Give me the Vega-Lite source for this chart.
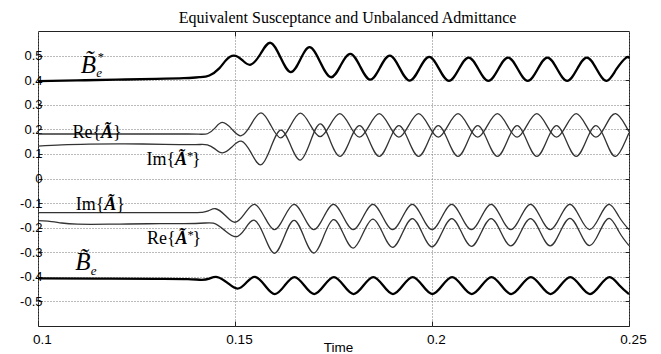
{
  "$schema": "https://vega.github.io/schema/vega-lite/v6.json",
  "width": 591,
  "height": 295,
  "autosize": {"type": "none"},
  "padding": {"left": 38, "top": 31, "right": 32, "bottom": 28},
  "background": "white",
  "title": {"text": "Equivalent Susceptance and Unbalanced Admittance", "font": "Liberation Serif", "fontSize": 16, "fontWeight": "normal", "color": "black", "offset": -8, "baseline": "alphabetic", "dx": 14},
  "config": {
    "view": {"stroke": "#222", "strokeWidth": 1},
    "axis": {"tickColor": "#222", "tickWidth": 1, "domain": false}
  },
  "datasets": {
    "thick": [
      {"s":"Bs","t":0.100,"v":0.396},{"s":"Bs","t":0.110,"v":0.399},{"s":"Bs","t":0.120,"v":0.402},{"s":"Bs","t":0.130,"v":0.405},{"s":"Bs","t":0.137,"v":0.408},{"s":"Bs","t":0.141,"v":0.412},{"s":"Bs","t":0.1435,"v":0.419},{"s":"Bs","t":0.1460,"v":0.448},{"s":"Bs","t":0.1477,"v":0.481},{"s":"Bs","t":0.1497,"v":0.500},
      {"s":"Bs","t":0.15185,"v":0.4815},{"s":"Bs","t":0.1540,"v":0.463},{"s":"Bs","t":0.1565,"v":0.5075},{"s":"Bs","t":0.1590,"v":0.552},{"s":"Bs","t":0.16155,"v":0.4925},{"s":"Bs","t":0.1641,"v":0.433},{"s":"Bs","t":0.16655,"v":0.4835},{"s":"Bs","t":0.1690,"v":0.534},{"s":"Bs","t":0.17165,"v":0.473},{"s":"Bs","t":0.1743,"v":0.412},
      {"s":"Bs","t":0.1768,"v":0.4595},{"s":"Bs","t":0.1793,"v":0.507},{"s":"Bs","t":0.1818,"v":0.4545},{"s":"Bs","t":0.1843,"v":0.402},{"s":"Bs","t":0.1868,"v":0.451},{"s":"Bs","t":0.1893,"v":0.500},{"s":"Bs","t":0.1918,"v":0.449},{"s":"Bs","t":0.1943,"v":0.398},{"s":"Bs","t":0.1968,"v":0.4465},{"s":"Bs","t":0.1993,"v":0.495},
      {"s":"Bs","t":0.2018,"v":0.446},{"s":"Bs","t":0.2043,"v":0.397},{"s":"Bs","t":0.2068,"v":0.4445},{"s":"Bs","t":0.2093,"v":0.492},{"s":"Bs","t":0.2118,"v":0.4445},{"s":"Bs","t":0.2143,"v":0.397},{"s":"Bs","t":0.2168,"v":0.4445},{"s":"Bs","t":0.2193,"v":0.492},{"s":"Bs","t":0.2218,"v":0.4445},{"s":"Bs","t":0.2243,"v":0.397},
      {"s":"Bs","t":0.2268,"v":0.4445},{"s":"Bs","t":0.2293,"v":0.492},{"s":"Bs","t":0.2318,"v":0.4445},{"s":"Bs","t":0.2343,"v":0.397},{"s":"Bs","t":0.2368,"v":0.4445},{"s":"Bs","t":0.2393,"v":0.492},{"s":"Bs","t":0.2418,"v":0.4445},{"s":"Bs","t":0.2443,"v":0.397},{"s":"Bs","t":0.2468,"v":0.4445},{"s":"Bs","t":0.2493,"v":0.492},{"s":"Bs","t":0.2500,"v":0.4876},
      {"s":"B","t":0.100,"v":-0.406},{"s":"B","t":0.115,"v":-0.407},{"s":"B","t":0.130,"v":-0.408},{"s":"B","t":0.138,"v":-0.409},{"s":"B","t":0.1415,"v":-0.412},{"s":"B","t":0.1435,"v":-0.407},{"s":"B","t":0.1455,"v":-0.401},{"s":"B","t":0.1481,"v":-0.4245},{"s":"B","t":0.1506,"v":-0.448},{"s":"B","t":0.15285,"v":-0.424},
      {"s":"B","t":0.1551,"v":-0.400},{"s":"B","t":0.1576,"v":-0.435},{"s":"B","t":0.1601,"v":-0.470},{"s":"B","t":0.1626,"v":-0.4355},{"s":"B","t":0.1651,"v":-0.401},{"s":"B","t":0.1676,"v":-0.4355},{"s":"B","t":0.1701,"v":-0.470},{"s":"B","t":0.1726,"v":-0.4355},{"s":"B","t":0.1751,"v":-0.401},{"s":"B","t":0.1776,"v":-0.4355},
      {"s":"B","t":0.1801,"v":-0.470},{"s":"B","t":0.1826,"v":-0.4355},{"s":"B","t":0.1851,"v":-0.401},{"s":"B","t":0.1876,"v":-0.4355},{"s":"B","t":0.1901,"v":-0.470},{"s":"B","t":0.1926,"v":-0.4355},{"s":"B","t":0.1951,"v":-0.401},{"s":"B","t":0.1976,"v":-0.4355},{"s":"B","t":0.2001,"v":-0.470},{"s":"B","t":0.2026,"v":-0.4355},
      {"s":"B","t":0.2051,"v":-0.401},{"s":"B","t":0.2076,"v":-0.4355},{"s":"B","t":0.2101,"v":-0.470},{"s":"B","t":0.2126,"v":-0.4355},{"s":"B","t":0.2151,"v":-0.401},{"s":"B","t":0.2176,"v":-0.4355},{"s":"B","t":0.2201,"v":-0.470},{"s":"B","t":0.2226,"v":-0.4355},{"s":"B","t":0.2251,"v":-0.401},{"s":"B","t":0.2276,"v":-0.4355},
      {"s":"B","t":0.2301,"v":-0.470},{"s":"B","t":0.2326,"v":-0.4355},{"s":"B","t":0.2351,"v":-0.401},{"s":"B","t":0.2376,"v":-0.4355},{"s":"B","t":0.2401,"v":-0.470},{"s":"B","t":0.2426,"v":-0.4355},{"s":"B","t":0.2451,"v":-0.401},{"s":"B","t":0.2476,"v":-0.4355},{"s":"B","t":0.2500,"v":-0.470}
    ],
    "thin": [
      {"s":"C","t":0.100,"v":-0.139},{"s":"C","t":0.120,"v":-0.139},{"s":"C","t":0.138,"v":-0.139},{"s":"C","t":0.1415,"v":-0.138},{"s":"C","t":0.1432,"v":-0.132},{"s":"C","t":0.1451,"v":-0.123},{"s":"C","t":0.14755,"v":-0.1505},{"s":"C","t":0.1500,"v":-0.178},{"s":"C","t":0.1525,"v":-0.1415},{"s":"C","t":0.1550,"v":-0.105},
      {"s":"C","t":0.1575,"v":-0.1565},{"s":"C","t":0.1600,"v":-0.208},{"s":"C","t":0.1625,"v":-0.1565},{"s":"C","t":0.1650,"v":-0.105},{"s":"C","t":0.1675,"v":-0.1565},{"s":"C","t":0.1700,"v":-0.208},{"s":"C","t":0.1725,"v":-0.1565},{"s":"C","t":0.1750,"v":-0.105},{"s":"C","t":0.1775,"v":-0.1565},{"s":"C","t":0.1800,"v":-0.208},
      {"s":"C","t":0.1825,"v":-0.1565},{"s":"C","t":0.1850,"v":-0.105},{"s":"C","t":0.1875,"v":-0.1565},{"s":"C","t":0.1900,"v":-0.208},{"s":"C","t":0.1925,"v":-0.1565},{"s":"C","t":0.1950,"v":-0.105},{"s":"C","t":0.1975,"v":-0.1565},{"s":"C","t":0.2000,"v":-0.208},{"s":"C","t":0.2025,"v":-0.1565},{"s":"C","t":0.2050,"v":-0.105},
      {"s":"C","t":0.2075,"v":-0.1565},{"s":"C","t":0.2100,"v":-0.208},{"s":"C","t":0.2125,"v":-0.1565},{"s":"C","t":0.2150,"v":-0.105},{"s":"C","t":0.2175,"v":-0.1565},{"s":"C","t":0.2200,"v":-0.208},{"s":"C","t":0.2225,"v":-0.1565},{"s":"C","t":0.2250,"v":-0.105},{"s":"C","t":0.2275,"v":-0.1565},{"s":"C","t":0.2300,"v":-0.208},
      {"s":"C","t":0.2325,"v":-0.1565},{"s":"C","t":0.2350,"v":-0.105},{"s":"C","t":0.2375,"v":-0.1565},{"s":"C","t":0.2400,"v":-0.208},{"s":"C","t":0.2425,"v":-0.1565},{"s":"C","t":0.2450,"v":-0.105},{"s":"C","t":0.2475,"v":-0.1565},{"s":"C","t":0.2500,"v":-0.208},
      {"s":"D","t":0.100,"v":-0.171},{"s":"D","t":0.1025,"v":-0.173},{"s":"D","t":0.106,"v":-0.181},{"s":"D","t":0.110,"v":-0.186},{"s":"D","t":0.118,"v":-0.186},{"s":"D","t":0.128,"v":-0.184},{"s":"D","t":0.140,"v":-0.183},{"s":"D","t":0.1445,"v":-0.182},{"s":"D","t":0.1473,"v":-0.21},{"s":"D","t":0.1502,"v":-0.237},
      {"s":"D","t":0.1526,"v":-0.2035},{"s":"D","t":0.1550,"v":-0.170},{"s":"D","t":0.1575,"v":-0.237},{"s":"D","t":0.1600,"v":-0.304},{"s":"D","t":0.1625,"v":-0.237},{"s":"D","t":0.1650,"v":-0.170},{"s":"D","t":0.1675,"v":-0.237},{"s":"D","t":0.1700,"v":-0.303},{"s":"D","t":0.1725,"v":-0.235},{"s":"D","t":0.1750,"v":-0.167},
      {"s":"D","t":0.1775,"v":-0.225},{"s":"D","t":0.1800,"v":-0.283},{"s":"D","t":0.1825,"v":-0.2225},{"s":"D","t":0.1850,"v":-0.165},{"s":"D","t":0.1875,"v":-0.222},{"s":"D","t":0.1900,"v":-0.280},{"s":"D","t":0.1925,"v":-0.2215},{"s":"D","t":0.1950,"v":-0.163},{"s":"D","t":0.1975,"v":-0.2205},{"s":"D","t":0.2000,"v":-0.278},
      {"s":"D","t":0.2025,"v":-0.2205},{"s":"D","t":0.2050,"v":-0.163},{"s":"D","t":0.2075,"v":-0.219},{"s":"D","t":0.2100,"v":-0.276},{"s":"D","t":0.2125,"v":-0.2195},{"s":"D","t":0.2150,"v":-0.163},{"s":"D","t":0.2175,"v":-0.2185},{"s":"D","t":0.2200,"v":-0.274},{"s":"D","t":0.2225,"v":-0.2185},{"s":"D","t":0.2250,"v":-0.163},
      {"s":"D","t":0.2275,"v":-0.2185},{"s":"D","t":0.2300,"v":-0.274},{"s":"D","t":0.2325,"v":-0.218},{"s":"D","t":0.2350,"v":-0.162},{"s":"D","t":0.2375,"v":-0.2175},{"s":"D","t":0.2400,"v":-0.273},{"s":"D","t":0.2425,"v":-0.2175},{"s":"D","t":0.2450,"v":-0.162},{"s":"D","t":0.2475,"v":-0.2175},{"s":"D","t":0.2500,"v":-0.273},
      {"s":"E","t":0.100,"v":0.181},{"s":"E","t":0.120,"v":0.181},{"s":"E","t":0.138,"v":0.181},{"s":"E","t":0.1430,"v":0.182},{"s":"E","t":0.1449,"v":0.205},{"s":"E","t":0.1468,"v":0.228},{"s":"E","t":0.1492,"v":0.201},{"s":"E","t":0.1516,"v":0.174},{"s":"E","t":0.1541,"v":0.2205},{"s":"E","t":0.1566,"v":0.267},
      {"s":"E","t":0.1591,"v":0.216},{"s":"E","t":0.1616,"v":0.165},{"s":"E","t":0.1641,"v":0.2155},{"s":"E","t":0.1666,"v":0.266},{"s":"E","t":0.1691,"v":0.218},{"s":"E","t":0.1716,"v":0.170},{"s":"E","t":0.1741,"v":0.217},{"s":"E","t":0.1766,"v":0.264},{"s":"E","t":0.1791,"v":0.216},{"s":"E","t":0.1816,"v":0.168},
      {"s":"E","t":0.1841,"v":0.216},{"s":"E","t":0.1866,"v":0.264},{"s":"E","t":0.1891,"v":0.216},{"s":"E","t":0.1916,"v":0.168},{"s":"E","t":0.1941,"v":0.216},{"s":"E","t":0.1966,"v":0.264},{"s":"E","t":0.1991,"v":0.216},{"s":"E","t":0.2016,"v":0.168},{"s":"E","t":0.2041,"v":0.216},{"s":"E","t":0.2066,"v":0.264},
      {"s":"E","t":0.2091,"v":0.216},{"s":"E","t":0.2116,"v":0.168},{"s":"E","t":0.2141,"v":0.216},{"s":"E","t":0.2166,"v":0.264},{"s":"E","t":0.2191,"v":0.216},{"s":"E","t":0.2216,"v":0.168},{"s":"E","t":0.2241,"v":0.216},{"s":"E","t":0.2266,"v":0.264},{"s":"E","t":0.2291,"v":0.216},{"s":"E","t":0.2316,"v":0.168},
      {"s":"E","t":0.2341,"v":0.216},{"s":"E","t":0.2366,"v":0.264},{"s":"E","t":0.2391,"v":0.216},{"s":"E","t":0.2416,"v":0.168},{"s":"E","t":0.2441,"v":0.216},{"s":"E","t":0.2466,"v":0.264},{"s":"E","t":0.2491,"v":0.216},{"s":"E","t":0.2500,"v":0.190},
      {"s":"F","t":0.100,"v":0.132},{"s":"F","t":0.106,"v":0.137},{"s":"F","t":0.113,"v":0.140},{"s":"F","t":0.122,"v":0.141},{"s":"F","t":0.132,"v":0.139},{"s":"F","t":0.140,"v":0.138},{"s":"F","t":0.1430,"v":0.137},{"s":"F","t":0.1449,"v":0.1205},{"s":"F","t":0.1468,"v":0.104},{"s":"F","t":0.1492,"v":0.128},
      {"s":"F","t":0.1516,"v":0.152},{"s":"F","t":0.1541,"v":0.104},{"s":"F","t":0.1566,"v":0.056},{"s":"F","t":0.1591,"v":0.1265},{"s":"F","t":0.1616,"v":0.197},{"s":"F","t":0.1641,"v":0.136},{"s":"F","t":0.1666,"v":0.075},{"s":"F","t":0.1691,"v":0.1485},{"s":"F","t":0.1716,"v":0.222},{"s":"F","t":0.1741,"v":0.156},
      {"s":"F","t":0.1766,"v":0.090},{"s":"F","t":0.1791,"v":0.1525},{"s":"F","t":0.1816,"v":0.215},{"s":"F","t":0.1841,"v":0.1525},{"s":"F","t":0.1866,"v":0.090},{"s":"F","t":0.1891,"v":0.1525},{"s":"F","t":0.1916,"v":0.215},{"s":"F","t":0.1941,"v":0.1525},{"s":"F","t":0.1966,"v":0.090},{"s":"F","t":0.1991,"v":0.1525},
      {"s":"F","t":0.2016,"v":0.215},{"s":"F","t":0.2041,"v":0.1525},{"s":"F","t":0.2066,"v":0.090},{"s":"F","t":0.2091,"v":0.1525},{"s":"F","t":0.2116,"v":0.215},{"s":"F","t":0.2141,"v":0.1525},{"s":"F","t":0.2166,"v":0.090},{"s":"F","t":0.2191,"v":0.1525},{"s":"F","t":0.2216,"v":0.215},{"s":"F","t":0.2241,"v":0.1525},
      {"s":"F","t":0.2266,"v":0.090},{"s":"F","t":0.2291,"v":0.1525},{"s":"F","t":0.2316,"v":0.215},{"s":"F","t":0.2341,"v":0.1525},{"s":"F","t":0.2366,"v":0.090},{"s":"F","t":0.2391,"v":0.1525},{"s":"F","t":0.2416,"v":0.215},{"s":"F","t":0.2441,"v":0.1525},{"s":"F","t":0.2466,"v":0.090},{"s":"F","t":0.2491,"v":0.1525},{"s":"F","t":0.2500,"v":0.186}
    ],
    "lreg": [
      {"t":0.108731,"v":0.1667,"txt":"Re{"},{"t":0.119036,"v":0.1667,"txt":"}"},
      {"t":0.127513,"v":0.0549,"txt":"Im{"},{"t":0.139086,"v":0.0549,"txt":"}"},
      {"t":0.109569,"v":-0.1272,"txt":"Im{"},{"t":0.119873,"v":-0.1272,"txt":"}"},
      {"t":0.127665,"v":-0.2654,"txt":"Re{"},{"t":0.139239,"v":-0.2654,"txt":"}"}
    ],
    "lbi": [
      {"t":0.115990,"v":0.1667,"txt":"Ã"},{"t":0.134772,"v":0.0549,"txt":"Ã"},{"t":0.116827,"v":-0.1272,"txt":"Ã"},{"t":0.134924,"v":-0.2654,"txt":"Ã"}
    ],
    "lstar": [
      {"t":0.137817,"v":0.0752,"txt":"*"},{"t":0.137970,"v":-0.2451,"txt":"*"},{"t":0.115152,"v":0.4797,"txt":"*"}
    ],
    "lB": [
      {"t":0.110838,"v":0.4309,"txt":"B\u0303"},{"t":0.109442,"v":-0.374,"txt":"B\u0303"}
    ],
    "le": [
      {"t":0.114772,"v":0.4146,"txt":"e"},{"t":0.113376,"v":-0.3943,"txt":"e"}
    ]
  },
  "resolve": {"axis": {"x": "independent", "y": "independent"}},
  "layer": [
    {
      "data": {"name": "thin"},
      "mark": {"type": "line", "interpolate": "natural", "color": "#333", "strokeWidth": 1.3},
      "encoding": {
        "x": {"field": "t", "type": "quantitative", "scale": {"domain": [0.1, 0.25], "nice": false, "zero": false},
          "axis": {"values": [0.1, 0.15, 0.2, 0.25], "format": ".2~f", "title": "Time", "grid": true, "gridDash": [1, 2], "gridColor": "#777", "tickSize": -5, "labelFont": "Liberation Sans", "labelFontSize": 13.5, "labelColor": "black", "labelPadding": 11, "labelOffset": 4, "labelFlush": false, "titleFont": "Liberation Sans", "titleFontSize": 13.5, "titleFontWeight": "normal", "titleColor": "black", "titleBaseline": "alphabetic", "titleY": 25, "titleX": 300}},
        "y": {"field": "v", "type": "quantitative", "scale": {"domain": [-0.6, 0.6], "nice": false, "zero": false},
          "axis": {"values": [-0.5, -0.4, -0.3, -0.2, -0.1, 0, 0.1, 0.2, 0.3, 0.4, 0.5], "labelExpr": "datum.value == 0 ? '0' : (datum.value < 0 ? '-' + format(-datum.value, '.1f') : format(datum.value, '.1f'))", "title": null, "grid": true, "gridDash": [1, 2], "gridColor": "#777", "tickSize": -4, "labelFont": "Liberation Sans", "labelFontSize": 13, "labelColor": "black", "labelPadding": 0}},
        "detail": {"field": "s"}
      }
    },
    {
      "data": {"name": "thick"},
      "mark": {"type": "line", "interpolate": "natural", "color": "black", "strokeWidth": 2.3},
      "encoding": {
        "x": {"field": "t", "type": "quantitative", "scale": {"domain": [0.1, 0.25], "nice": false, "zero": false},
          "axis": {"orient": "top", "values": [0.15, 0.2], "labels": false, "grid": false, "tickSize": -5, "title": null}},
        "y": {"field": "v", "type": "quantitative", "scale": {"domain": [-0.6, 0.6], "nice": false, "zero": false},
          "axis": {"orient": "right", "values": [-0.5, -0.4, -0.3, -0.2, -0.1, 0, 0.1, 0.2, 0.3, 0.4, 0.5], "labels": false, "grid": false, "tickSize": -4, "title": null}},
        "detail": {"field": "s"}
      }
    },
    {
      "data": {"name": "lreg"},
      "mark": {"type": "text", "font": "Liberation Serif", "fontSize": 18, "align": "left", "baseline": "alphabetic", "color": "black"},
      "encoding": {
        "x": {"field": "t", "type": "quantitative", "axis": null},
        "y": {"field": "v", "type": "quantitative", "axis": null},
        "text": {"field": "txt"}
      }
    },
    {
      "data": {"name": "lbi"},
      "mark": {"type": "text", "font": "Liberation Serif", "fontSize": 18, "fontWeight": "bold", "fontStyle": "italic", "align": "left", "baseline": "alphabetic", "color": "black"},
      "encoding": {
        "x": {"field": "t", "type": "quantitative", "axis": null},
        "y": {"field": "v", "type": "quantitative", "axis": null},
        "text": {"field": "txt"}
      }
    },
    {
      "data": {"name": "lstar"},
      "mark": {"type": "text", "font": "Liberation Serif", "fontSize": 12.5, "align": "left", "baseline": "alphabetic", "color": "black"},
      "encoding": {
        "x": {"field": "t", "type": "quantitative", "axis": null},
        "y": {"field": "v", "type": "quantitative", "axis": null},
        "text": {"field": "txt"}
      }
    },
    {
      "data": {"name": "lB"},
      "mark": {"type": "text", "font": "Liberation Serif", "fontSize": 25, "fontStyle": "italic", "align": "left", "baseline": "alphabetic", "color": "black"},
      "encoding": {
        "x": {"field": "t", "type": "quantitative", "axis": null},
        "y": {"field": "v", "type": "quantitative", "axis": null},
        "text": {"field": "txt"}
      }
    },
    {
      "data": {"name": "le"},
      "mark": {"type": "text", "font": "Liberation Serif", "fontSize": 13, "fontStyle": "italic", "align": "left", "baseline": "alphabetic", "color": "black"},
      "encoding": {
        "x": {"field": "t", "type": "quantitative", "axis": null},
        "y": {"field": "v", "type": "quantitative", "axis": null},
        "text": {"field": "txt"}
      }
    }
  ]
}
